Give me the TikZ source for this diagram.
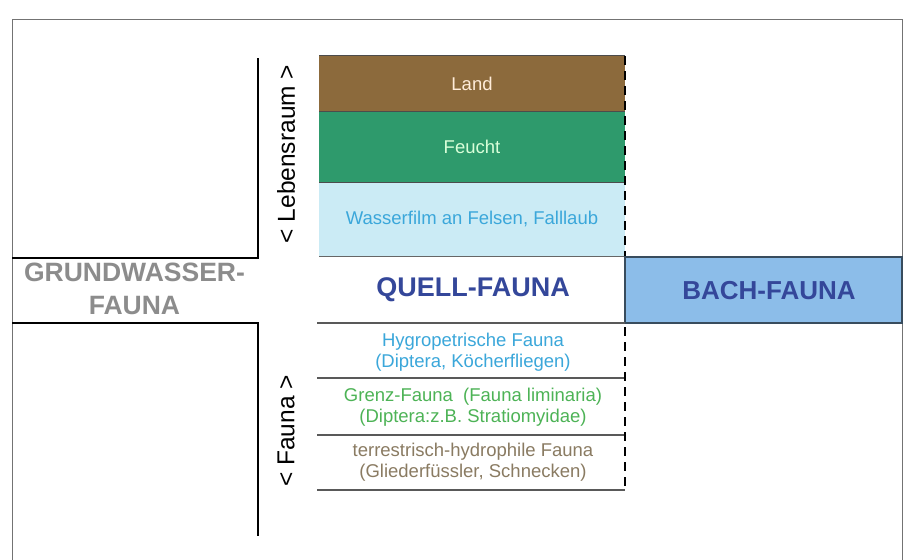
\documentclass[tikz,border=0pt]{standalone}
\usepackage{fontspec}
\setmainfont{Liberation Sans}
\begin{document}
\begin{tikzpicture}[x=1pt,y=-1pt,
  wall/.style={line width=2.8pt,black},
  sepline/.style={line width=1.6pt,black!65},
  dashline/.style={line width=2.2pt,black,dash pattern=on 9pt off 6pt},
  small/.style={font=\fontsize{18.5}{20.5}\selectfont,align=center},
  big/.style={font=\bfseries\fontsize{27}{30}\selectfont}]
\definecolor{landc}{HTML}{8C6A3C}
\definecolor{feuchtc}{HTML}{2E9A6C}
\definecolor{wasserc}{HTML}{CBEBF5}
\definecolor{bachc}{HTML}{8CBDE9}
\definecolor{navy}{HTML}{34479A}
\definecolor{hygro}{HTML}{3BA7DA}
\definecolor{grenz}{HTML}{4DB356}
\definecolor{terr}{HTML}{8A7B62}
\useasboundingbox (0,0) rectangle (904,559);
\fill[white] (0,0) rectangle (904,559);
% outer frame
\draw[line width=1pt,black!55] (12,570) -- (12,20) -- (902,20) -- (902,570);
% bands
\fill[landc] (319,56) rectangle (625,112);
\fill[feuchtc] (319,112) rectangle (625,182);
\fill[wasserc] (319,182) rectangle (625,256);
\draw[line width=1pt,black!70] (319,56) -- (625,56);
\draw[line width=1pt,black!70] (319,112) -- (625,112);
\draw[line width=1pt,black!70] (319,182) -- (625,182);
\draw[line width=1.4pt,black!60] (319,256.5) -- (625,256.5);
\node[small,text=white!85!orange] (land) at (472,84) {Land};
\node[small,text=white!85!green] (feucht) at (472,147) {Feucht};
\node[small,text=hygro] (wasser) at (472,219) {Wasserfilm an Felsen, Falllaub};
\draw[dashline] (625,56) -- (625,256);
% Bach box
\draw[fill=bachc,draw=black!60!bachc,line width=1.2pt] (625,257) rectangle (902,323);
\node[big,text=navy,font=\bfseries\fontsize{26}{30}\selectfont] (bach) at (769,291) {BACH-FAUNA};
\node[big,text=navy] (quell) at (473,290) {QUELL-FAUNA};
% Grundwasser
\draw[wall] (12,258) -- (258,258) -- (258,58);
\draw[wall] (12,323) -- (258,323) -- (258,536);
\node[text=black!45,align=center,font=\bfseries\fontsize{26.5}{33}\selectfont] (grund) at (134.5,289) {GRUNDWASSER-\\FAUNA};
% side labels
\node[rotate=90,font=\fontsize{24.5}{28}\selectfont] (leb) at (286,154) {< Lebensraum >};
\node[rotate=90,font=\fontsize{24.5}{28}\selectfont] (fau) at (286,431) {< Fauna >};
% lower separators
\draw[sepline] (317,323) -- (625,323);
\draw[sepline] (317,378) -- (625,378);
\draw[sepline] (317,435) -- (625,435);
\draw[sepline] (317,490) -- (625,490);
\draw[dashline] (625,327) -- (625,488);
\node[small,text=hygro] (hyg) at (473,352) {Hygropetrische Fauna\\(Diptera, Köcherfliegen)};
\node[small,text=grenz] (gren) at (473,407) {Grenz-Fauna~~(Fauna liminaria)\\(Diptera:z.B. Stratiomyidae)};
\node[small,text=terr] (ter) at (473,462) {terrestrisch-hydrophile Fauna\\(Gliederfüssler, Schnecken)};
\end{tikzpicture}
\end{document}
